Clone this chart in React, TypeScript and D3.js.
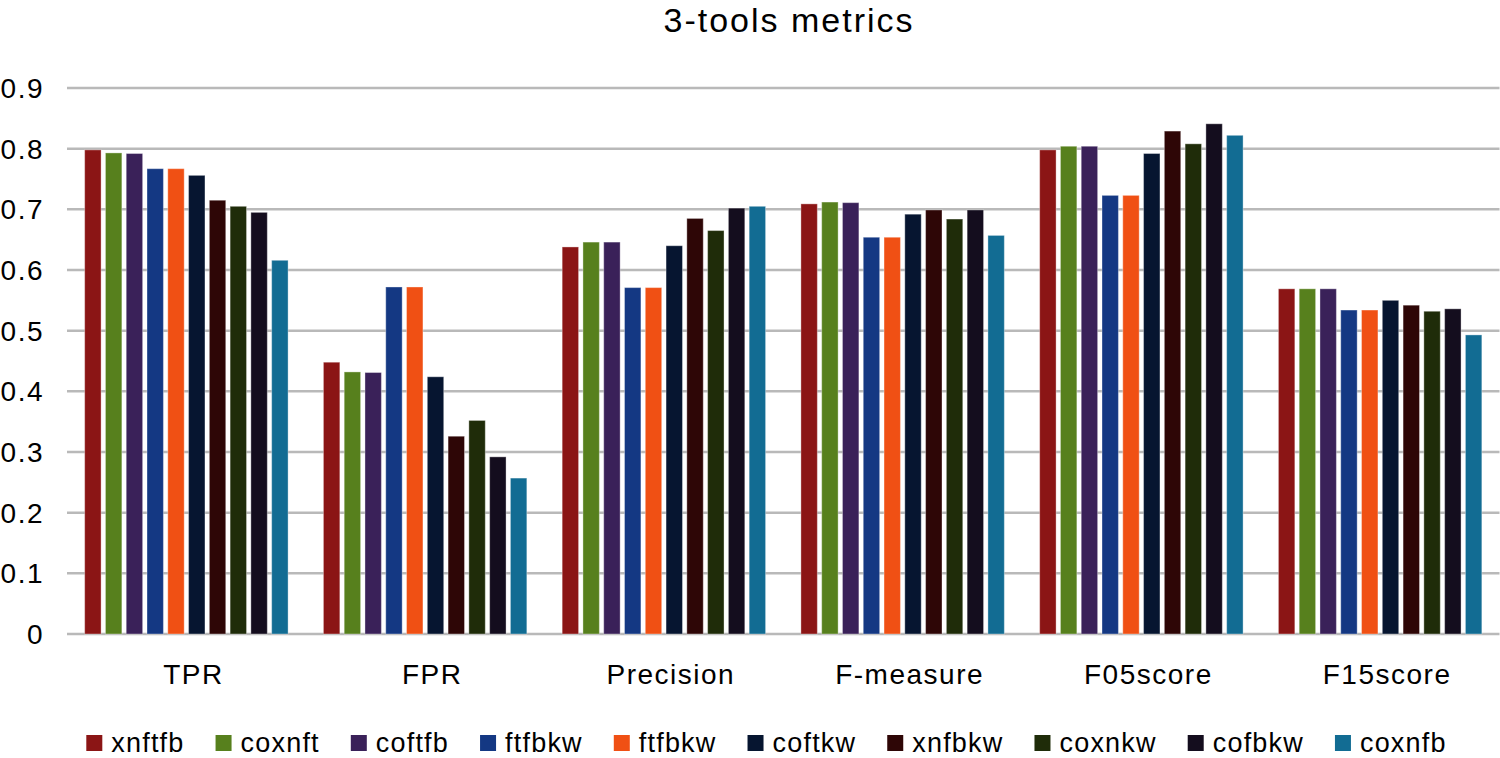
import React, { useEffect, useRef } from "react";
import * as d3 from "d3";

const categories = ["TPR", "FPR", "Precision", "F-measure", "F05score", "F15score"];
const seriesNames = ["xnftfb", "coxnft", "coftfb", "ftfbkw", "ftfbkw", "coftkw", "xnfbkw", "coxnkw", "cofbkw", "coxnfb"];
const seriesColors = ["#8B1515", "#57801D", "#3A2159", "#143883", "#F05014", "#061530", "#2E0606", "#1F2C09", "#140D1E", "#126C93"];

// values per series, in category order
const xnftfb = [0.798, 0.448, 0.638, 0.709, 0.798, 0.569];
const coxnft = [0.793, 0.432, 0.646, 0.712, 0.804, 0.569];
const coftfb = [0.792, 0.431, 0.646, 0.711, 0.804, 0.569];
const ftfbkw1 = [0.767, 0.572, 0.571, 0.654, 0.723, 0.534];
const ftfbkw2 = [0.767, 0.572, 0.571, 0.654, 0.723, 0.534];
const coftkw = [0.756, 0.424, 0.640, 0.692, 0.792, 0.550];
const xnfbkw = [0.715, 0.326, 0.685, 0.699, 0.829, 0.542];
const coxnkw = [0.705, 0.352, 0.665, 0.684, 0.808, 0.532];
const cofbkw = [0.695, 0.292, 0.702, 0.699, 0.841, 0.536];
const coxnfb = [0.616, 0.257, 0.705, 0.657, 0.822, 0.493];
const seriesValues = [xnftfb, coxnft, coftfb, ftfbkw1, ftfbkw2, coftkw, xnfbkw, coxnkw, cofbkw, coxnfb];

const yTicks = [0, 0.1, 0.2, 0.3, 0.4, 0.5, 0.6, 0.7, 0.8, 0.9];
const title = "3-tools metrics";

const W = 1500;
const H = 758;
const FONT = "'Liberation Sans', Arial, Helvetica, sans-serif";

export default function App() {
  const ref = useRef<SVGSVGElement | null>(null);

  useEffect(() => {
    const svg = d3.select(ref.current);
    svg.selectAll("*").remove();

    const plotLeft = 67;
    const plotRight = 1499.5;
    const y0 = 634;
    const yTop = 88;

    const x0 = d3.scaleBand<string>().domain(categories).range([plotLeft, plotRight]).padding(0);
    const step = x0.bandwidth();
    const x1 = d3
      .scaleBand<number>()
      .domain(d3.range(seriesNames.length))
      .range([step * 0.074, step * 0.926])
      .paddingInner(0.21)
      .paddingOuter(0);
    const y = d3.scaleLinear().domain([0, 0.9]).range([y0, yTop]);

    // title
    svg
      .append("text")
      .attr("x", 789)
      .attr("y", 32)
      .attr("text-anchor", "middle")
      .attr("font-family", FONT)
      .attr("font-size", 34)
      .attr("letter-spacing", 2)
      .attr("fill", "#000")
      .text(title);

    // gridlines
    svg
      .append("g")
      .selectAll("line")
      .data(yTicks)
      .join("line")
      .attr("x1", plotLeft)
      .attr("x2", plotRight)
      .attr("y1", (d) => y(d))
      .attr("y2", (d) => y(d))
      .attr("stroke", "#b9b9b9")
      .attr("stroke-width", 2.5);

    // y tick labels
    svg
      .append("g")
      .selectAll("text")
      .data(yTicks)
      .join("text")
      .attr("x", 44)
      .attr("y", (d) => y(d))
      .attr("dy", "0.36em")
      .attr("text-anchor", "end")
      .attr("font-family", FONT)
      .attr("font-size", 28)
      .attr("letter-spacing", 1.5)
      .attr("fill", "#000")
      .text((d) => (d === 0 ? "0" : d3.format(".1f")(d)));

    // bars
    const groups = svg
      .append("g")
      .selectAll("g")
      .data(categories)
      .join("g")
      .attr("transform", (c) => `translate(${x0(c)},0)`);

    groups
      .selectAll("rect")
      .data((c, ci) => seriesValues.map((vals, si) => ({ si, v: vals[ci] })))
      .join("rect")
      .attr("x", (d) => x1(d.si)!)
      .attr("width", x1.bandwidth())
      .attr("y", (d) => y(d.v))
      .attr("height", (d) => y0 - y(d.v))
      .attr("fill", (d) => seriesColors[d.si])
      .attr("stroke", "rgba(255,255,255,0.35)")
      .attr("stroke-width", 1);

    // x labels
    svg
      .append("g")
      .selectAll("text")
      .data(categories)
      .join("text")
      .attr("x", (c) => x0(c)! + step / 2 + 7)
      .attr("y", 684)
      .attr("text-anchor", "middle")
      .attr("font-family", FONT)
      .attr("font-size", 28)
      .attr("letter-spacing", 1.5)
      .attr("fill", "#000")
      .text((c) => c);

    // legend
    const legend = svg.append("g");
    let cx = 0;
    const sq = 16;
    const sqGap = 9;
    const itemGap = 31;
    seriesNames.forEach((name, i) => {
      const g = legend.append("g").attr("transform", `translate(${cx},0)`);
      g.append("rect")
        .attr("x", 0)
        .attr("y", 735)
        .attr("width", sq)
        .attr("height", sq)
        .attr("fill", seriesColors[i]);
      const t = g
        .append("text")
        .attr("x", sq + sqGap)
        .attr("y", 752)
        .attr("font-family", FONT)
        .attr("font-size", 27)
        .attr("letter-spacing", 1.2)
        .attr("fill", "#000")
        .text(name);
      const tw = (t.node() as SVGTextElement).getComputedTextLength();
      cx += sq + sqGap + tw + itemGap;
    });
    const total = cx - itemGap;
    legend.attr("transform", `translate(${766.5 - total / 2},0)`);
  }, []);

  return (
    <svg
      ref={ref}
      width={W}
      height={H}
      style={{ position: "absolute", left: 0, top: 0, background: "#fff" }}
    />
  );
}
